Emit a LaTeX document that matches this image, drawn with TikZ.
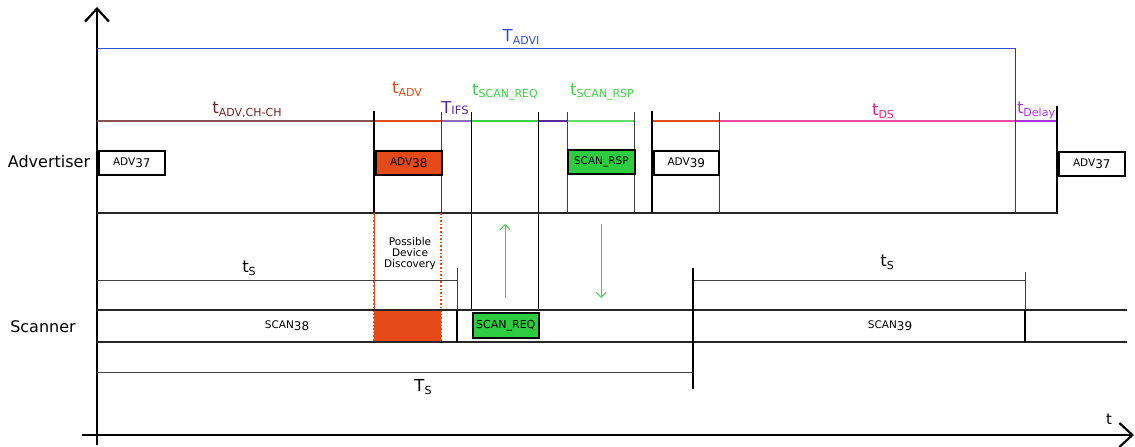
\documentclass[tikz,border=0pt]{standalone}
\usepackage{fontspec}
\setmainfont{DejaVu Sans}
\usetikzlibrary{arrows.meta}

\definecolor{advorange}{RGB}{230,74,25}
\definecolor{pktgreen}{RGB}{46,204,64}
\definecolor{lblgreen}{RGB}{60,210,70}
\definecolor{chbrown}{RGB}{110,35,35}
\definecolor{advblue}{RGB}{50,80,200}
\definecolor{ifspurple}{RGB}{90,40,160}
\definecolor{dsmagenta}{RGB}{230,30,140}
\definecolor{delayviolet}{RGB}{170,50,230}

% time symbol with a lowered subscript
\newcommand{\tsym}[2]{{\fontsize{16.5}{16}\selectfont #1}\raisebox{-0.5ex}{\fontsize{11}{11}\selectfont #2}}
\newcommand{\pkt}[2]{#1\raisebox{-0.3ex}{\fontsize{12}{12}\selectfont #2}}

\tikzset{
  axis/.style={line width=2.2pt,-{Straight Barb[length=13pt,width=24pt,line width=2.2pt]}},
  bar/.style={line width=2.2pt},
  tick/.style={line width=1pt,black!75},
  lane/.style={line width=1.2pt,black!85},
  packet/.style={draw,line width=1.6pt,minimum width=66pt,minimum height=24pt,
    inner sep=0pt,font=\fontsize{10.5}{11}\selectfont},
  label/.style={inner sep=0pt},
  signal/.style={lblgreen,line width=1pt,-{Straight Barb[length=5pt,width=10pt,line width=1pt]}},
  window/.style={advorange,line width=1.6pt,dotted},
}

\begin{document}
\begin{tikzpicture}[x=1pt,y=-1pt]
\useasboundingbox (0,0) rectangle (1135,447);

% axes
\coordinate (yb) at (97,445);
\coordinate (yt) at (97,7);
\coordinate (xl) at (82,435);
\coordinate (xr) at (1134,435);
\draw[axis] (yb) -- (yt);
\draw[axis] (xl) -- (xr);
\node[label,font=\fontsize{15}{15}\selectfont] (tlab) at (1109,419) {t};

% lane titles
\node[label,font=\fontsize{16}{16}\selectfont] (adv) at (49,162) {Advertiser};
\node[label,font=\fontsize{16}{16}\selectfont] (scn) at (43,327) {Scanner};

% advertising interval
\coordinate (ai0) at (97,48);
\coordinate (ai1) at (1015,48);
\draw[advblue,line width=1pt] (ai0) -- (ai1);
\node[label,advblue] (TADVI) at (521,37) {\tsym{T}{ADVI}};

% advertiser time line segments
\draw[chbrown!80,line width=1.2pt] (97,121) -- (374,121);
\draw[advorange,line width=1.1pt] (374,121) -- (441,121);
\draw[ifspurple!70,line width=1.5pt] (441,121) -- (471,121);
\draw[lblgreen,line width=1.1pt] (471,121) -- (538,121);
\draw[ifspurple,line width=1.5pt] (538,121) -- (567,121);
\draw[lblgreen!80,line width=1.1pt] (567,121) -- (634,121);
\draw[advorange,line width=1.1pt] (652,121) -- (719,121);
\draw[dsmagenta!80,line width=1.2pt] (719,121) -- (1015,121);
\draw[delayviolet,line width=1.2pt] (1015,121) -- (1057,121);

\node[label,chbrown] (tch) at (247,110) {\tsym{t}{ADV,CH-CH}};
\node[label,advorange] (tadv) at (407,89) {\tsym{t}{ADV}};
\node[label,ifspurple] (tifs) at (455,108) {{\fontsize{16.5}{16}\selectfont T}\raisebox{-0.15ex}{\fontsize{11.5}{11}\selectfont IFS}};
\node[label,lblgreen] (treq) at (505,92) {\tsym{t}{SCAN\_REQ}};
\node[label,lblgreen] (trsp) at (602,92) {\tsym{t}{SCAN\_RSP}};
\node[label,dsmagenta] (tds) at (883,111) {\tsym{t}{DS}};
\node[label,delayviolet] (tdel) at (1036,110) {\tsym{t}{Delay}};

% advertiser boundaries
\draw[bar] (374,111) -- (374,213);
\draw[tick] (441,112) -- (441,213);
\draw[tick,black] (471,112) -- (471,310);
\draw[tick,black] (538,112) -- (538,310);
\draw[tick] (567,112) -- (567,213);
\draw[tick] (634,112) -- (634,213);
\draw[bar] (652,111) -- (652,213);
\draw[tick] (719,112) -- (719,213);
\draw[tick] (ai1) -- (1015,213);
\draw[bar] (1057,106) -- (1057,214);
\draw[lane] (97,213) -- (1057,213);

% advertiser packets
\node[packet,anchor=north west] (adv37a) at (98,150) {\pkt{ADV}{37}};
\node[packet,anchor=north west,fill=advorange] (adv38) at (375,150) {\pkt{ADV}{38}};
\node[packet,anchor=north west,fill=pktgreen,minimum width=67pt] (rsp) at (567,149) {SCAN\_RSP};
\node[packet,anchor=north west,minimum width=65pt] (adv39) at (653,150) {\pkt{ADV}{39}};
\node[packet,anchor=north west] (adv37b) at (1058,151) {\pkt{ADV}{37}};

% possible discovery window
\fill[advorange] (374,310) rectangle (441,342);
\draw[advorange,line width=0.8pt] (374,213) -- (374,342);
\draw[window] (374,213) -- (374,342);
\draw[window] (441,213) -- (441,342);
\node[label,align=center,font=\fontsize{10.5}{11}\selectfont] (disc) at (410,254) {Possible\\Device\\Discovery};

% scanner lane
\draw[lane] (97,310) -- (1127,310);
\draw[lane] (97,342) -- (1127,342);
\node[label,font=\fontsize{10.5}{11}\selectfont] (scan38) at (287,326) {\pkt{SCAN}{38}};
\node[label,font=\fontsize{10.5}{11}\selectfont] (scan39) at (890,326) {\pkt{SCAN}{39}};
\node[packet,anchor=north west,fill=pktgreen,minimum width=66pt,minimum height=25pt,font=\fontsize{11}{11}\selectfont] (req) at (472,312) {SCAN\_REQ};

% scan windows
\draw[tick] (97,280) -- (457,280);
\draw[tick] (457,268) -- (457,310);
\draw[line width=1.8pt] (457,310) -- (457,342);
\node[label] (ts1) at (249,268) {\tsym{t}{S}};
\draw[tick] (693,280) -- (1025,280);
\draw[tick] (1025,272) -- (1025,310);
\draw[line width=1.8pt] (1025,310) -- (1025,342);
\node[label] (ts2) at (887,262) {\tsym{t}{S}};
\draw[bar] (693,268) -- (693,389);
\draw[tick] (97,372) -- (693,372);
\node[label] (TS) at (423,387) {\tsym{T}{S}};

% request / response signals
\coordinate (up0) at (505,298);
\coordinate (up1) at (505,224);
\coordinate (dn0) at (601,224);
\coordinate (dn1) at (601,298);
\draw[signal] (up0) -- (up1);
\draw[signal] (dn0) -- (dn1);
\end{tikzpicture}
\end{document}
